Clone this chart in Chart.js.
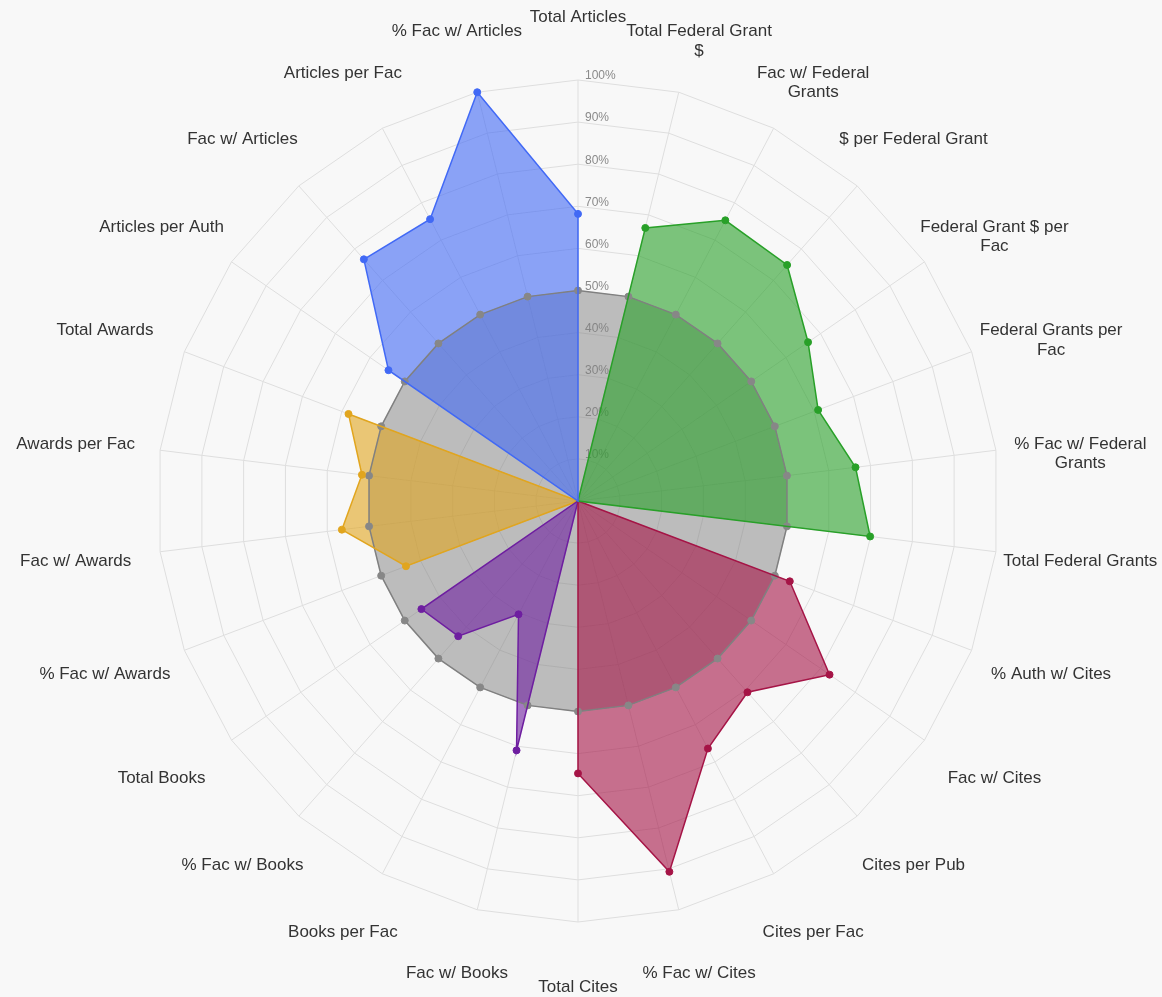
<!DOCTYPE html>
<html>
<head>
<meta charset="utf-8">
<script src="https://cdn.jsdelivr.net/npm/chart.js@4.4.1/dist/chart.umd.min.js"></script>
<style>
html,body{margin:0;padding:0;background:#f8f8f8;}
#wrap{position:relative;width:1162px;height:997px;}
canvas{display:block;}
</style>
</head>
<body>
<div id="wrap"><canvas id="c" width="1162" height="997"></canvas></div>
<script>
const categories = [
  'Total Articles',
  ['Total Federal Grant', '$'],
  ['Fac w/ Federal', 'Grants'],
  '$ per Federal Grant',
  ['Federal Grant $ per', 'Fac'],
  ['Federal Grants per', 'Fac'],
  ['% Fac w/ Federal', 'Grants'],
  'Total Federal Grants',
  '% Auth w/ Cites',
  'Fac w/ Cites',
  'Cites per Pub',
  'Cites per Fac',
  '% Fac w/ Cites',
  'Total Cites',
  'Fac w/ Books',
  'Books per Fac',
  '% Fac w/ Books',
  'Total Books',
  '% Fac w/ Awards',
  'Fac w/ Awards',
  'Awards per Fac',
  'Total Awards',
  'Articles per Auth',
  'Fac w/ Articles',
  'Articles per Fac',
  '% Fac w/ Articles'
];

const articlesValues = [68.2, 0, 0, 0, 0, 0, 0, 0, 0, 0, 0, 0, 0, 0, 0, 0, 0, 0, 0, 0, 0, 0, 54.7, 76.7, 75.6, 100];
const grantsValues   = [0, 66.8, 75.3, 74.9, 66.4, 61.0, 66.4, 69.9, 0, 0, 0, 0, 0, 0, 0, 0, 0, 0, 0, 0, 0, 0, 0, 0, 0, 0];
const citesValues    = [0, 0, 0, 0, 0, 0, 0, 0, 53.8, 72.6, 60.7, 66.4, 90.7, 64.7, 0, 0, 0, 0, 0, 0, 0, 0, 0, 0, 0, 0];
const booksValues    = [0, 0, 0, 0, 0, 0, 0, 0, 0, 0, 0, 0, 0, 0, 61.0, 30.4, 42.9, 45.2, 0, 0, 0, 0, 0, 0, 0, 0];
const awardsValues   = [0, 0, 0, 0, 0, 0, 0, 0, 0, 0, 0, 0, 0, 0, 0, 0, 0, 0, 43.7, 56.5, 51.7, 58.3, 0, 0, 0, 0];
const averageValues  = [50, 50, 50, 50, 50, 50, 50, 50, 50, 50, 50, 50, 50, 50, 50, 50, 50, 50, 50, 50, 50, 50, 50, 50, 50, 50];

const tickValues = [10, 20, 30, 40, 50, 60, 70, 80, 90, 100];
const tickLabels = ['10%', '20%', '30%', '40%', '50%', '60%', '70%', '80%', '90%', '100%'];

function ds(label, data, rgb) {
  return {
    label: label,
    data: data,
    fill: true,
    borderColor: 'rgb(' + rgb + ')',
    backgroundColor: 'rgba(' + rgb + ',0.6)',
    borderWidth: 1.5,
    pointBackgroundColor: 'rgb(' + rgb + ')',
    pointBorderColor: 'rgb(' + rgb + ')',
    pointBorderWidth: 1,
    pointRadius: (c) => (c.raw === 0 ? 0 : 3.5),
    pointHoverRadius: 0
  };
}

const labelsPlugin = {
  id: 'customLabels',
  beforeDraw(chart) {
    const s = chart.scales.r;
    s.drawLabels = function () {
      const ctx = this.ctx;
      ctx.save();
      ctx.font = '12px "Liberation Sans", Arial, sans-serif';
      ctx.fillStyle = '#8a8a8a';
      ctx.textAlign = 'left';
      ctx.textBaseline = 'middle';
      tickValues.forEach((v, k) => {
        const d = this.getDistanceFromCenterForValue(v);
        ctx.fillText(tickLabels[k], this.xCenter + 7, this.yCenter - d - 4);
      });
      ctx.restore();
    };
  },
  afterDraw(chart) {
    const s = chart.scales.r;
    const ctx = chart.ctx;
    ctx.save();
    ctx.font = '17px "Liberation Sans", Arial, sans-serif';
    ctx.fillStyle = '#333333';
    ctx.textAlign = 'center';
    ctx.textBaseline = 'middle';
    categories.forEach((lab, i) => {
      const px = s.getPointPosition(i, 506).x;
      const py = s.getPointPosition(i, 485).y + 1.5;
      const lines = Array.isArray(lab) ? lab : [lab];
      lines.forEach((t, k) => ctx.fillText(t, px, py + k * 19.5));
    });
    ctx.restore();
  }
};

new Chart(document.getElementById('c'), {
  type: 'radar',
  data: {
    labels: categories,
    datasets: [
      ds('Articles', articlesValues, '65,105,245'),
      ds('Federal Grants', grantsValues, '40,160,40'),
      ds('Cites', citesValues, '165,20,70'),
      ds('Books', booksValues, '110,30,160'),
      ds('Awards', awardsValues, '225,165,30'),
      {
        label: 'Average',
        data: averageValues,
        fill: true,
        borderColor: 'rgb(128,128,128)',
        backgroundColor: 'rgba(128,128,128,0.5)',
        borderWidth: 1.5,
        pointBackgroundColor: 'rgb(135,135,135)',
        pointBorderColor: 'rgb(135,135,135)',
        pointBorderWidth: 1,
        pointRadius: 3.5,
        pointHoverRadius: 0
      }
    ]
  },
  options: {
    responsive: false,
    animation: false,
    layout: { padding: { top: 80, bottom: 75, left: 0, right: 6 } },
    plugins: {
      legend: { display: false },
      tooltip: { enabled: false },
      filler: { drawTime: 'beforeDatasetsDraw' }
    },
    scales: {
      r: {
        min: 0,
        max: 100,
        ticks: { display: false, stepSize: 10 },
        pointLabels: { display: false },
        grid: { color: '#dedede', lineWidth: 1 },
        angleLines: { color: '#dedede', lineWidth: 1 }
      }
    }
  },
  plugins: [labelsPlugin]
});
</script>
</body>
</html>
